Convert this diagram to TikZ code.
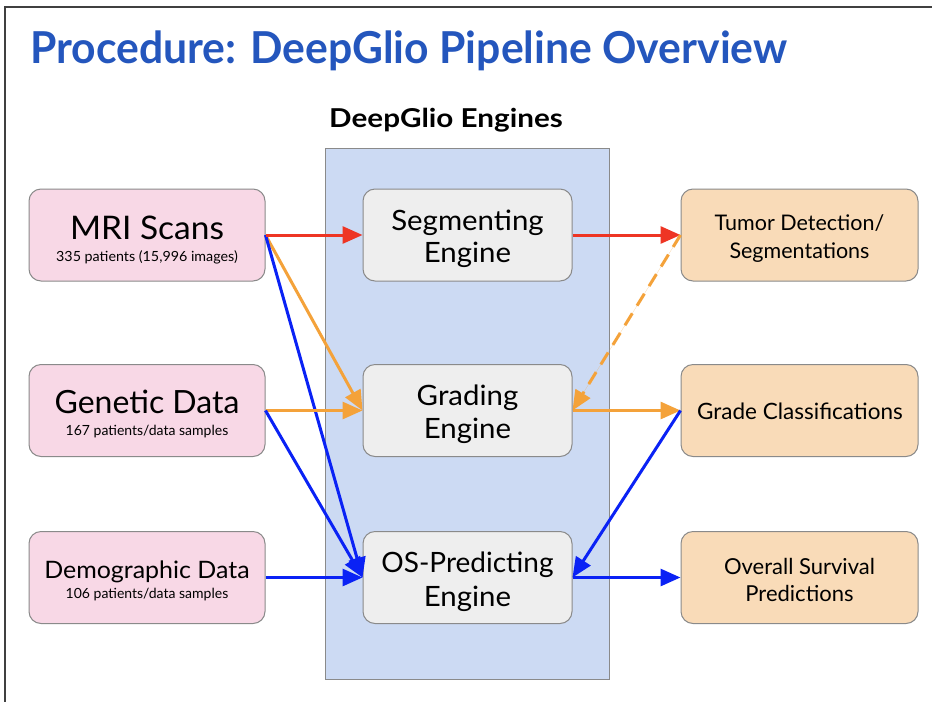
\documentclass[tikz,border=0pt]{standalone}
\usepackage{fontspec}
\usepackage{graphicx}
\setmainfont{Lato}
\usetikzlibrary{arrows.meta}
\definecolor{titleblue}{HTML}{2456BD}
\definecolor{panelblue}{HTML}{CCDAF3}
\definecolor{pinkfill}{HTML}{F8D8E6}
\definecolor{greyfill}{HTML}{EEEEEE}
\definecolor{peachfill}{HTML}{F9DBB8}
\definecolor{boxline}{HTML}{8A8A8A}
\definecolor{cred}{HTML}{EE3524}
\definecolor{corange}{HTML}{F4A23A}
\definecolor{cblue}{HTML}{0A22F5}
\newcommand{\hsc}[2]{\scalebox{#1}[1]{#2}}
\tikzset{
  box/.style={draw=boxline, line width=1pt, rounded corners=12pt, minimum width=236pt, minimum height=92pt, inner sep=0pt},
  inbox/.style={box, fill=pinkfill},
  engbox/.style={box, fill=greyfill, minimum width=209pt},
  outbox/.style={box, fill=peachfill, minimum width=237pt},
  txt/.style={anchor=base, inner sep=0pt},
  conn/.style={line width=3pt, -{Triangle[length=20pt,width=17pt]}},
}
\begin{document}
\begin{tikzpicture}[x=1pt,y=-1pt]
\useasboundingbox (0,0) rectangle (932,702);
\fill[white] (0,0) rectangle (932,702);
\draw[line width=1.5pt, draw=black!75] (932,7) -- (5,7) -- (5,702);
\node[anchor=base west, text=titleblue, font=\fontsize{44}{44}\selectfont\bfseries, inner sep=0pt] (title) at (30,63) {\hsc{0.97}{Procedure: DeepGlio Pipeline Overview}};
\node[txt, font=\fontsize{26}{26}\selectfont\bfseries] (engt) at (446,127) {\hsc{1.14}{DeepGlio Engines}};
\node[draw=boxline, line width=1pt, fill=panelblue, minimum width=284pt, minimum height=531pt, inner sep=0pt] (panel) at (467,413.5) {};
% inputs
\node[inbox] (mri) at (147,235) {};
\node[inbox] (gen) at (147,410.5) {};
\node[inbox] (dem) at (147,577.5) {};
\node[txt, font=\fontsize{32.5}{33}\selectfont] (mrit) at (147,239) {\hsc{1.03}{MRI Scans}};
\node[txt, font=\fontsize{14}{14}\selectfont] (mris) at (147,261) {\hsc{1.02}{335 patients (15,996 images)}};
\node[txt, font=\fontsize{32}{33}\selectfont] (gent) at (147,413) {Genetic Data};
\node[txt, font=\fontsize{14}{14}\selectfont] (gens) at (147,435) {167 patients/data samples};
\node[txt, font=\fontsize{24}{24}\selectfont] (demt) at (147,578) {\hsc{1.04}{Demographic Data}};
\node[txt, font=\fontsize{14}{14}\selectfont] (dems) at (147,598) {106 patients/data samples};
% engines
\node[engbox] (seg) at (467.5,235) {};
\node[engbox] (grd) at (467.5,410.5) {};
\node[engbox] (os) at (467.5,577.5) {};
\node[txt, font=\fontsize{28}{28}\selectfont] (segt) at (467.5,230) {\hsc{1.05}{Segmenting}};
\node[txt, font=\fontsize{28}{28}\selectfont] (sege) at (467.5,262) {\hsc{1.05}{Engine}};
\node[txt, font=\fontsize{28}{28}\selectfont] (grdt) at (467.5,405.5) {\hsc{1.05}{Grading}};
\node[txt, font=\fontsize{28}{28}\selectfont] (grde) at (467.5,438) {\hsc{1.05}{Engine}};
\node[txt, font=\fontsize{28}{28}\selectfont] (ost) at (467.5,572) {OS-Predicting};
\node[txt, font=\fontsize{28}{28}\selectfont] (ose) at (467.5,606) {\hsc{1.05}{Engine}};
% outputs
\node[outbox] (tum) at (799.5,235) {};
\node[outbox] (gcl) at (799.5,410.5) {};
\node[outbox] (ovs) at (799.5,577.5) {};
\node[txt, font=\fontsize{21.5}{22}\selectfont] (tumt) at (799.5,230) {Tumor Detection/};
\node[txt, font=\fontsize{21.5}{22}\selectfont] (tums) at (799.5,258) {Segmentations};
\node[txt, font=\fontsize{22.5}{23}\selectfont] (gclt) at (800,419) {Grade Classifications};
\node[txt, font=\fontsize{22}{22}\selectfont] (ovst) at (799.5,574) {Overall Survival};
\node[txt, font=\fontsize{22}{22}\selectfont] (ovsp) at (799.5,601) {Predictions};
% connectors
\draw[conn, draw=corange, fill=corange] (mri.east) -- (grd.west);
\draw[conn, draw=cblue, fill=cblue] (mri.east) -- (os.west);
\draw[conn, draw=cred, fill=cred] (mri.east) -- (seg.west);
\draw[conn, draw=cred, fill=cred] (seg.east) -- (tum.west);
\draw[conn, draw=corange, fill=corange] (gen.east) -- (grd.west);
\draw[conn, draw=cblue, fill=cblue] (gen.east) -- (os.west);
\draw[conn, draw=cblue, fill=cblue] (dem.east) -- (os.west);
\draw[conn, draw=corange, fill=corange, dash pattern=on 14pt off 9pt] (tum.west) -- (grd.east);
\draw[conn, draw=corange, fill=corange] (grd.east) -- (gcl.west);
\draw[conn, draw=cblue, fill=cblue] (gcl.west) -- (os.east);
\draw[conn, draw=cblue, fill=cblue] (os.east) -- (ovs.west);
\end{tikzpicture}
\end{document}
